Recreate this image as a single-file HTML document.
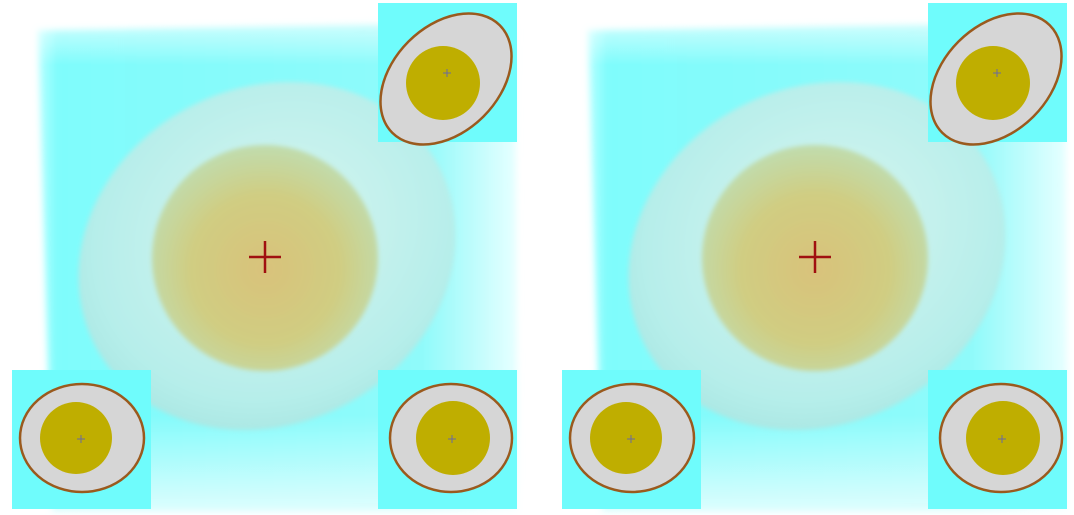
<!DOCTYPE html>
<html><head><meta charset="utf-8"><style>
html,body{margin:0;padding:0;background:#fff;width:1074px;height:515px;overflow:hidden}
svg{display:block}
</style></head><body>
<svg id="s" width="1074" height="515" viewBox="0 0 1074 515" xmlns="http://www.w3.org/2000/svg">
<defs>
<linearGradient id="bgH" x1="0" y1="0" x2="1" y2="0">
<stop offset="0" stop-color="#7ff" stop-opacity="0.5"/><stop offset="0.04" stop-color="#7ffcfc"/><stop offset="0.8" stop-color="#8ffafa"/><stop offset="1" stop-color="#e8ffff"/>
</linearGradient>
<linearGradient id="fadeV" x1="0" y1="0" x2="0" y2="1">
<stop offset="0" stop-color="#fff" stop-opacity="0.7"/><stop offset="0.1" stop-color="#fff" stop-opacity="0"/><stop offset="0.8" stop-color="#fff" stop-opacity="0"/><stop offset="1" stop-color="#fff" stop-opacity="0.75"/>
</linearGradient>
<radialGradient id="white" cx="0.55" cy="0.45" r="0.6">
<stop offset="0" stop-color="#d8f6f0"/><stop offset="0.8" stop-color="#b6eeea"/><stop offset="1" stop-color="#a8e6e2"/>
</radialGradient>
<radialGradient id="yolk" cx="0.5" cy="0.55" r="0.55">
<stop offset="0" stop-color="#d9c27a"/><stop offset="0.6" stop-color="#d0cd82"/><stop offset="1" stop-color="#c0dcae"/>
</radialGradient>
<filter id="blur"><feGaussianBlur stdDeviation="2.5"/></filter>
<filter id="blur2"><feGaussianBlur stdDeviation="3.5"/></filter>
</defs>
</svg>
<script>
const panelOffsets=[0,550];
const NS='http://www.w3.org/2000/svg';
const svg=document.getElementById('s');
function el(t,a,p){const e=document.createElementNS(NS,t);for(const k in a)e.setAttribute(k,a[k]);(p||svg).appendChild(e);return e;}
function inset(g,x,y,ecx,ecy,rx,ry,rot,ycx,ycy,yr,px,py,name){
  const ig=el('g',{},g);
  
  
  el('rect',{x:x,y:y,width:139,height:139,fill:'#6ffcfc'},ig);
  el('ellipse',{cx:ecx,cy:ecy,rx:rx,ry:ry,fill:'#d6d6d6',stroke:'#9a5a1e','stroke-width':2.5,transform:`rotate(${rot} ${ecx} ${ecy})`},ig);
  el('circle',{cx:ycx,cy:ycy,r:yr,fill:'#bfae00'},ig);
  el('path',{d:`M${px-4} ${py}h8M${px} ${py-4}v8`,stroke:'#6a6aa0','stroke-width':1},ig);
}
panelOffsets.forEach((o,i)=>{
  const g=el('g',{transform:`translate(${o},0)`});
  
  
  el('path',{d:'M38 30 L515 22 L518 512 L52 512 Z',fill:'url(#bgH)',filter:'url(#blur2)'},g);
  el('rect',{x:30,y:15,width:495,height:500,fill:'url(#fadeV)'},g);
  const w=el('ellipse',{cx:267,cy:256,rx:194,ry:168,fill:'url(#white)',transform:'rotate(-28 267 256)',filter:'url(#blur)'},g);
  
  
  const y=el('circle',{cx:265,cy:258,r:113,fill:'url(#yolk)',filter:'url(#blur)'},g);
  
  
  const c=el('path',{d:'M249 257h32M265 241v32',stroke:'#a01010','stroke-width':2.5},g);
  
  
  inset(g,378,3,446,79,76,53,-45,443,83,37,447,73,'inset-top-right');
  inset(g,12,370,82,438,62,54,0,76,438,36,81,439,'inset-bottom-left');
  inset(g,378,370,451,438,61,54,0,453,438,37,452,439,'inset-bottom-right');
});
</script>
</body></html>
